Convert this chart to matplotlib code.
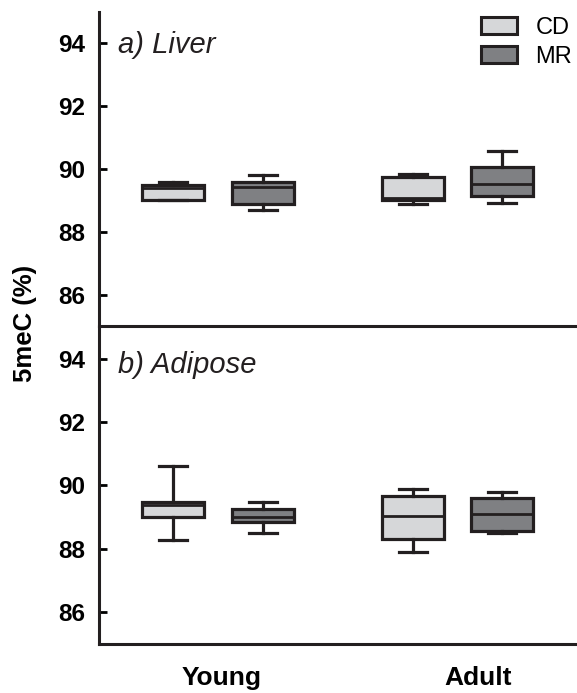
import matplotlib.pyplot as plt
from matplotlib.patches import Patch

plt.rcParams['font.family'] = ['Liberation Sans', 'DejaVu Sans']

groups = ['Young', 'Adult']
diets = ['CD', 'MR']
panels = ['a) Liver', 'b) Adipose']

# order: Young CD, Young MR, Adult CD, Adult MR
liver_whislo = [89.00, 88.70, 88.89, 88.91]
liver_q1 = [89.02, 88.89, 89.00, 89.14]
liver_med = [89.41, 89.42, 89.07, 89.52]
liver_q3 = [89.49, 89.60, 89.76, 90.05]
liver_whishi = [89.60, 89.81, 89.83, 90.58]

adipose_whislo = [88.29, 88.49, 87.89, 88.49]
adipose_q1 = [89.00, 88.84, 88.31, 88.56]
adipose_med = [89.39, 89.00, 89.05, 89.09]
adipose_q3 = [89.49, 89.26, 89.66, 89.62]
adipose_whishi = [90.60, 89.49, 89.90, 89.79]

positions = [1.0, 2.0, 3.667, 4.656]
label_pos = [1.544, 4.389]
colors = ['#d6d7d9', '#7f8083', '#d6d7d9', '#7f8083']
edge = '#231f20'

fig = plt.figure(figsize=(5.77, 6.93), dpi=100)
W, H = 577, 693
left = 99 / W
ax_top = fig.add_axes([left, 1 - 326 / H, 1 - left, 314 / H])
ax_bot = fig.add_axes([left, 1 - 644 / H, 1 - left, 317 / H])


def make_stats(wlo, q1, med, q3, whi):
    return [dict(whislo=a, q1=b, med=c, q3=d, whishi=e, fliers=[])
            for a, b, c, d, e in zip(wlo, q1, med, q3, whi)]


data = [
    make_stats(liver_whislo, liver_q1, liver_med, liver_q3, liver_whishi),
    make_stats(adipose_whislo, adipose_q1, adipose_med, adipose_q3, adipose_whishi),
]

for ax, stats, title in zip([ax_top, ax_bot], data, panels):
    bp = ax.bxp(stats, positions=positions, widths=0.69, capwidths=0.32,
                patch_artist=True, showfliers=False,
                boxprops=dict(edgecolor=edge, linewidth=2.3),
                medianprops=dict(color=edge, linewidth=2.0),
                whiskerprops=dict(color=edge, linewidth=2.3),
                capprops=dict(color=edge, linewidth=2.3))
    for box, c in zip(bp['boxes'], colors):
        box.set_facecolor(c)
    ax.set_ylim(85, 95)
    ax.set_xlim(0.178, 5.49)
    ax.set_yticks([86, 88, 90, 92, 94])
    ax.tick_params(axis='y', direction='in', length=6, width=2, pad=10,
                   labelsize=17.5)
    for lab in ax.get_yticklabels():
        lab.set_fontweight('bold')
    for s in ['top', 'right']:
        ax.spines[s].set_visible(False)
    for s in ['left', 'bottom']:
        ax.spines[s].set_linewidth(2.2)
        ax.spines[s].set_color(edge)
    ax.text(0.04, 0.895 if ax is ax_top else 0.88, title, transform=ax.transAxes,
            fontsize=21, style='italic', va='center', ha='left', color='#231f20')
    ax.patch.set_alpha(0)

ax_top.set_xticks([])
ax_bot.set_xticks(label_pos)
ax_bot.set_xticklabels(groups, fontsize=19, fontweight='bold')
ax_bot.tick_params(axis='x', length=0, pad=16)

fig.text(25 / W, 1 - 323 / H, '5meC (%)', rotation=90, fontsize=18.5,
         fontweight='bold', ha='center', va='center')

handles = [Patch(facecolor=colors[0], edgecolor=edge, linewidth=2.2),
           Patch(facecolor=colors[1], edgecolor=edge, linewidth=2.2)]
ax_top.legend(handles, diets, loc='upper right', bbox_to_anchor=(1.0, 1.0),
              frameon=False, fontsize=17, handlelength=1.5, handleheight=0.75,
              handletextpad=0.8, labelspacing=0.3, borderaxespad=0,
              borderpad=0.2)

fig.savefig('out.png', dpi=100)
